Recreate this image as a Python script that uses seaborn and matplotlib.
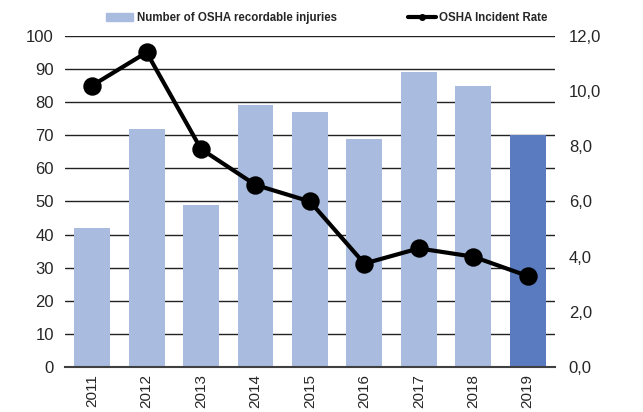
import numpy as np
import pandas as pd
import matplotlib
matplotlib.use('agg')
import matplotlib.pyplot as plt
from matplotlib.patches import Patch
from matplotlib.lines import Line2D
import seaborn as sns

years = ['2011', '2012', '2013', '2014', '2015', '2016', '2017', '2018', '2019']
injuries = [42, 72, 49, 79, 77, 69, 89, 85, 70]
incident_rate = [10.2, 11.4, 7.9, 6.6, 6.0, 3.75, 4.3, 4.0, 3.3]
bar_colors = ['#A9BCDF'] * 8 + ['#5A7BC0']

sns.set_style('white')
plt.rcParams['font.family'] = ['Liberation Sans', 'DejaVu Sans']

df = pd.DataFrame({'year': years, 'injuries': injuries, 'rate': incident_rate})

fig, ax = plt.subplots(figsize=(6.43, 4.12), dpi=100)
fig.subplots_adjust(left=0.101, right=0.863, top=0.913, bottom=0.109)

sns.barplot(data=df, x='year', y='injuries', hue='year', palette=bar_colors,
            legend=False, width=0.66, saturation=1, linewidth=0, ax=ax, zorder=2)
ax.set_ylim(0, 100)
ax.set_yticks(range(0, 101, 10))
ax.yaxis.grid(True, color='#222222', linewidth=1.0, zorder=0)
ax.set_axisbelow(True)
ax.set_xlabel('')
ax.set_ylabel('')
for s in ['left', 'right', 'top']:
    ax.spines[s].set_visible(False)
ax.spines['bottom'].set_color('#404040')
ax.spines['bottom'].set_linewidth(1.5)
ax.tick_params(axis='y', labelsize=12, length=0, pad=8)
ax.tick_params(axis='x', labelsize=11, length=0, rotation=90, pad=5)

ax2 = ax.twinx()
sns.pointplot(data=df, x='year', y='rate', color='black', ax=ax2,
              markers='o', markersize=11, linewidth=3)
ax2.set_ylim(0, 12)
ax2.set_yticks(np.arange(0, 12.1, 2))
ax2.set_yticklabels([f'{v:.1f}'.replace('.', ',') for v in np.arange(0, 12.1, 2)])
ax2.set_ylabel('')
ax2.tick_params(axis='y', labelsize=12, length=0, pad=10)
for s in ['left', 'right', 'top', 'bottom']:
    ax2.spines[s].set_visible(False)
ax2.grid(False)

handles = [Patch(color='#A9BCDF'),
           Line2D([0], [0], color='black', linewidth=3, marker='o', markersize=4)]
fig.legend(handles, ['Number of OSHA recordable injuries', 'OSHA Incident Rate'],
           loc='upper center', bbox_to_anchor=(0.508, 0.995), ncol=2, frameon=False,
           prop={'weight': 'bold', 'size': 8.3}, handlelength=2.4,
           columnspacing=6.2, handletextpad=0.3)

plt.savefig('out.png', dpi=100)
plt.close()
